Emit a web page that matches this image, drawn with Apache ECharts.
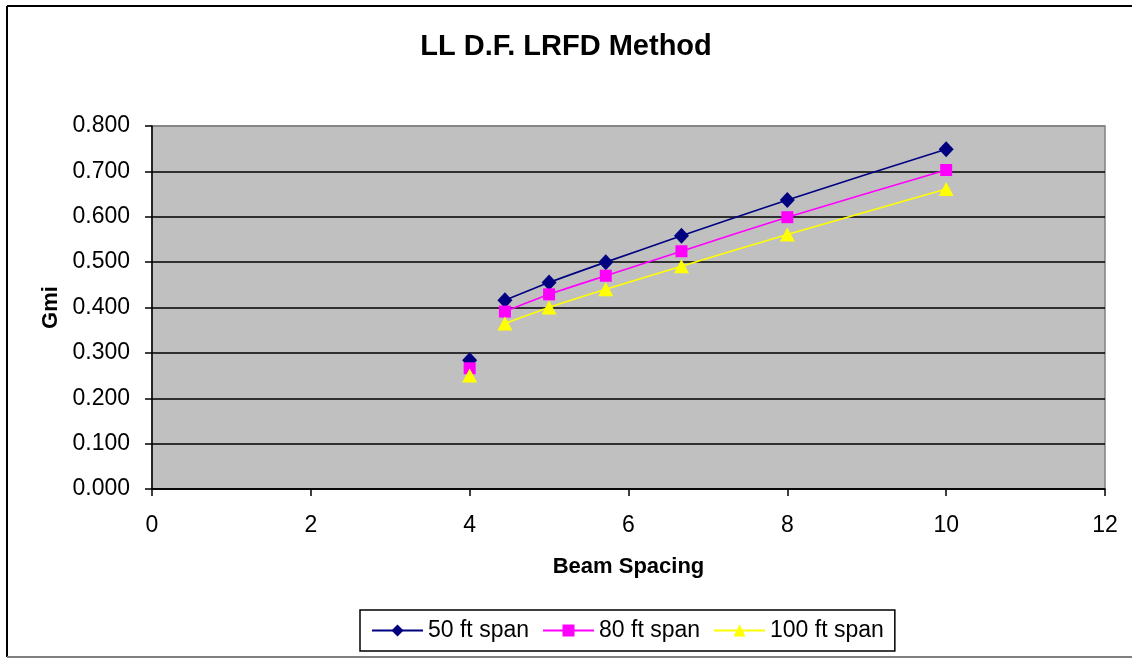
<!DOCTYPE html>
<html>
<head>
<meta charset="utf-8">
<script src="https://cdn.jsdelivr.net/npm/echarts@6/dist/echarts.min.js"></script>
<style>
html,body{margin:0;padding:0;background:#fff;}
#chart{width:1132px;height:658px;}
</style>
</head>
<body>
<div id="chart"></div>
<script>
// Beam spacing (ft) and Gmi values
var beamSpacing = [4.000, 4.444, 5.000, 5.714, 6.667, 8.000, 10.000];
var span50  = [0.284, 0.416, 0.455, 0.500, 0.558, 0.637, 0.749];
var span80  = [0.266, 0.391, 0.429, 0.470, 0.524, 0.599, 0.703];
var span100 = [0.250, 0.365, 0.400, 0.440, 0.491, 0.561, 0.661];
var seriesNames = ['50 ft span', '80 ft span', '100 ft span'];
var yTicks = ['0.000','0.100','0.200','0.300','0.400','0.500','0.600','0.700','0.800'];
var xTicks = [0, 2, 4, 6, 8, 10, 12];

// the first point is not joined to the rest in the reference
function build(vals) {
  var out = [];
  for (var i = 0; i < vals.length; i++) {
    if (i === 1) out.push('-');
    out.push([beamSpacing[i], vals[i]]);
  }
  return out;
}

var FONT = '"Liberation Sans", Arial, sans-serif';
var chart = echarts.init(document.getElementById('chart'), null, {renderer: 'canvas'});

var splitColors = yTicks.map(function (t, i) { return i === yTicks.length - 1 ? '#808080' : '#000000'; });

function mkSeries(name, vals, color, symbol, size) {
  return {
    name: name,
    type: 'line',
    data: build(vals),
    smooth: 0.2,
    connectNulls: false,
    symbol: symbol,
    symbolSize: size,
    showSymbol: true,
    lineStyle: {color: color, width: 1.6},
    itemStyle: {color: color, borderWidth: 0},
    emphasis: {disabled: true},
    z: 3
  };
}

var option = {
  animation: false,
  backgroundColor: '#ffffff',
  title: {
    text: 'LL D.F. LRFD Method',
    left: 'center',
    top: 32,
    padding: 0,
    textStyle: {fontFamily: FONT, fontSize: 29, fontWeight: 'bold', color: '#000'}
  },
  legend: {
    data: seriesNames,
    left: 360,
    top: 610,
    padding: [9, 11],
    itemGap: 13,
    itemWidth: 51,
    itemHeight: 15,
    borderColor: '#000',
    borderWidth: 1.5,
    backgroundColor: '#fff',
    textStyle: {fontFamily: FONT, fontSize: 23, color: '#000'}
  },
  grid: {
    left: 152, right: 27, top: 126, bottom: 169,
    show: true,
    backgroundColor: '#C0C0C0',
    borderColor: '#808080',
    borderWidth: 1.5
  },
  xAxis: {
    type: 'value',
    min: xTicks[0], max: xTicks[xTicks.length - 1], interval: 2,
    name: 'Beam Spacing',
    nameLocation: 'middle',
    nameGap: 67,
    nameTextStyle: {fontFamily: FONT, fontSize: 22, fontWeight: 'bold', color: '#000'},
    axisLine: {show: true, onZero: false, lineStyle: {color: '#000', width: 1.5}},
    axisTick: {show: true, inside: false, length: 7, lineStyle: {color: '#000', width: 1.5}},
    axisLabel: {fontFamily: FONT, fontSize: 23, color: '#000', margin: 25},
    splitLine: {show: false}
  },
  yAxis: {
    type: 'value',
    min: 0, max: 0.8, interval: 0.1,
    name: 'Gmi',
    nameLocation: 'middle',
    nameGap: 90,
    nameRotate: 90,
    nameTextStyle: {fontFamily: FONT, fontSize: 22, fontWeight: 'bold', color: '#000'},
    axisLine: {show: true, lineStyle: {color: '#000', width: 1.5}},
    axisTick: {show: true, inside: false, length: 7, lineStyle: {color: '#000', width: 1.5}},
    axisLabel: {
      fontFamily: FONT, fontSize: 23, color: '#000', margin: 22,
      formatter: function (v) { return yTicks[Math.round(v * 10)]; }
    },
    splitLine: {show: true, lineStyle: {color: splitColors, width: 1.6}}
  },
  graphic: [
    {type: 'line', shape: {x1: 7, y1: 6, x2: 1140, y2: 6}, style: {stroke: '#000', lineWidth: 2}, silent: true},
    {type: 'line', shape: {x1: 7, y1: 6, x2: 7, y2: 657}, style: {stroke: '#000', lineWidth: 2}, silent: true},
    {type: 'line', shape: {x1: 7, y1: 657, x2: 1140, y2: 657}, style: {stroke: '#808080', lineWidth: 2}, silent: true}
  ],
  series: [
    mkSeries(seriesNames[0], span50, '#000080', 'diamond', [15, 16]),
    mkSeries(seriesNames[1], span80, '#FF00FF', 'rect', 12),
    mkSeries(seriesNames[2], span100, '#FFFF00', 'triangle', [15, 14])
  ]
};
chart.setOption(option);
</script>
</body>
</html>
